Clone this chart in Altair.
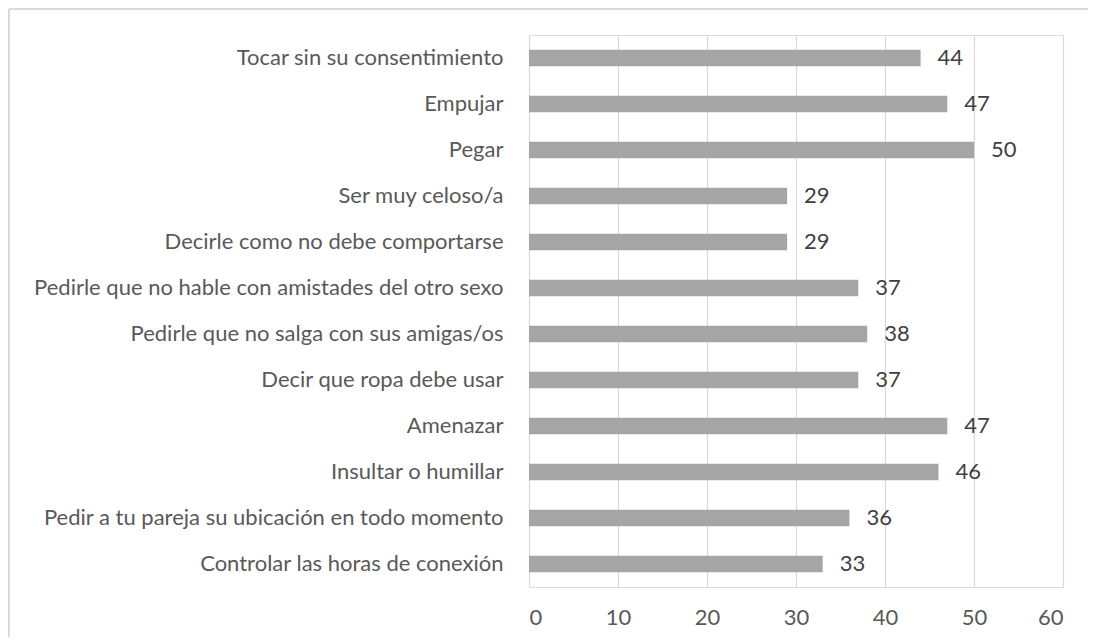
import altair as alt
import pandas as pd

categories = [
    "Tocar sin su consentimiento",
    "Empujar",
    "Pegar",
    "Ser muy celoso/a",
    "Decirle como no debe comportarse",
    "Pedirle que no hable con amistades del otro sexo",
    "Pedirle que no salga con sus amigas/os",
    "Decir que ropa debe usar",
    "Amenazar",
    "Insultar o humillar",
    "Pedir a tu pareja su ubicación en todo momento",
    "Controlar las horas de conexión",
]
values = [44, 47, 50, 29, 29, 37, 38, 37, 47, 46, 36, 33]
x_ticks = [0, 10, 20, 30, 40, 50, 60]

df = pd.DataFrame({"cat": categories, "val": values})

FONT = "Lato"
FS = 22

y_enc = alt.Y(
    "cat:N",
    sort=categories,
    title=None,
    scale=alt.Scale(paddingInner=0.64, paddingOuter=0.32),
    axis=alt.Axis(
        domain=False, ticks=False, labelPadding=26, labelFontSize=FS,
        labelColor="#595959", labelFont=FONT, labelLimit=600, grid=False,
    ),
)
x_enc = alt.X(
    "val:Q",
    title=None,
    scale=alt.Scale(domain=[0, 60], nice=False),
    axis=alt.Axis(
        values=x_ticks, domain=False, ticks=False, grid=True,
        gridColor="#d9d9d9", gridWidth=1.2, labelPadding=20, labelFontSize=FS,
        labelColor="#595959", labelFont=FONT,
    ),
)

bars = alt.Chart(df).mark_bar(color="#a5a5a5").encode(x=x_enc, y=y_enc)

labels = alt.Chart(df).mark_text(
    align="left", baseline="middle", dx=17, fontSize=FS, font=FONT, color="#404040"
).encode(x="val:Q", y=alt.Y("cat:N", sort=categories), text="val:Q")

frame_left = alt.Chart(df).mark_rule(stroke="#d9d9d9", strokeWidth=2).encode(
    x=alt.value(-520), y=alt.value(-26), y2=alt.value(900)
)
frame_top = alt.Chart(df).mark_rule(stroke="#d9d9d9", strokeWidth=2).encode(
    x=alt.value(-520), x2=alt.value(900), y=alt.value(-26)
)

chart = alt.layer(bars, labels, frame_left, frame_top).properties(
    width=534, height=552,
    autosize=alt.AutoSizeParams(type="none"),
    padding={"left": 521, "top": 27, "right": 25, "bottom": 50},
).configure_view(stroke="transparent", strokeWidth=0).configure(background="white")

chart.save("out.html", embed_options={"renderer": "svg", "actions": False})
